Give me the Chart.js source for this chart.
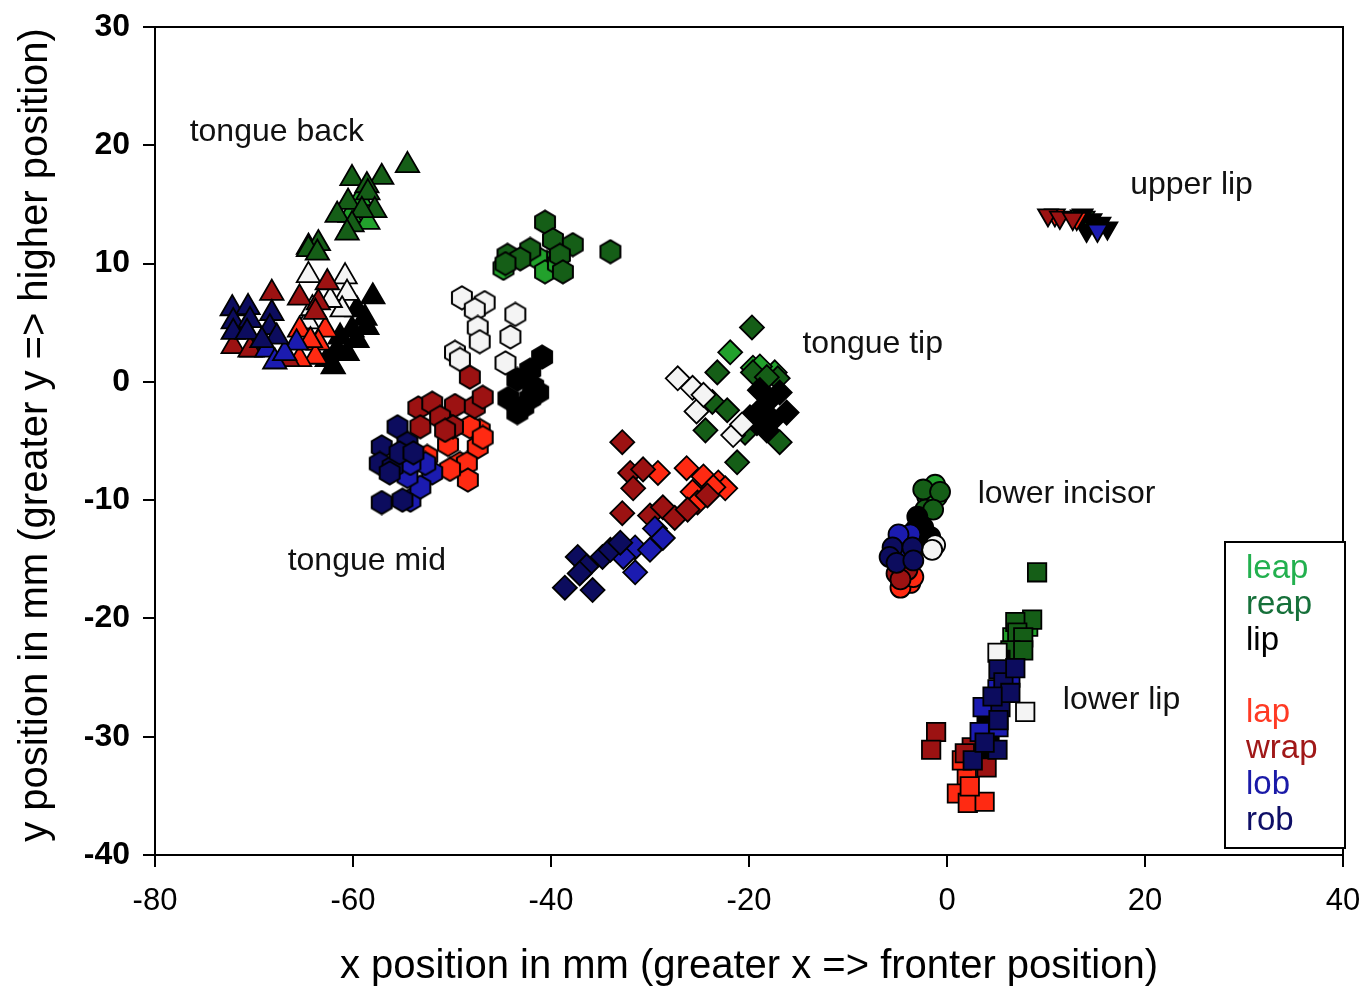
<!DOCTYPE html>
<html>
<head>
<meta charset="utf-8">
<title>Sensor positions</title>
<script src="https://cdn.jsdelivr.net/npm/chart.js@4.4.0/dist/chart.umd.min.js"></script>
<style>
  html, body { margin: 0; padding: 0; background: #fff; }
  #wrap { width: 1372px; height: 995px; }
</style>
</head>
<body>
<div id="wrap"><canvas id="myChart"></canvas></div>
<script>
// x, y in mm and the sensor each sample belongs to
// back = tongue back, mid = tongue mid, tip = tongue tip,
// inc = lower incisor, low = lower lip, up = upper lip
const leap = [
    [-60.3, 14.1, 'back'], [-58.5, 13.5, 'back'], [-64.5, 11.4, 'back'], [-59.3, 15.5, 'back'],
    [-40.4, 10.1, 'mid'], [-41.4, 10.5, 'mid'], [-44.8, 9.6, 'mid'], [-40.6, 9.3, 'mid'], [-39.3, 10.0, 'mid'],
    [-21.9, 2.5, 'tip'], [-19.6, 1.2, 'tip'], [-17.4, 0.8, 'tip'], [-18.9, 1.3, 'tip'],
    [-1.2, -8.7, 'inc'], [-2.0, -9.7, 'inc'], [-1.0, -9.7, 'inc'], [-1.7, -10.4, 'inc'],
    [6.6, -21.6, 'low'], [8.2, -20.7, 'low'], [6.7, -22.9, 'low'],
    [13.5, 14.0, 'up']
];
const reap = [
    [-54.5, 18.3, 'back'], [-57.1, 17.3, 'back'], [-60.1, 17.2, 'back'], [-58.6, 16.6, 'back'],
    [-58.5, 16.0, 'back'], [-60.5, 15.2, 'back'], [-57.8, 14.5, 'back'], [-59.1, 14.5, 'back'],
    [-61.6, 14.1, 'back'], [-60.1, 13.3, 'back'], [-60.6, 12.6, 'back'], [-63.5, 11.7, 'back'],
    [-64.5, 11.2, 'back'], [-63.6, 10.9, 'back'],
    [-40.6, 13.5, 'mid'], [-39.8, 12.0, 'mid'], [-44.4, 10.7, 'mid'], [-42.1, 11.2, 'mid'],
    [-37.8, 11.6, 'mid'], [-39.1, 10.7, 'mid'], [-38.8, 9.3, 'mid'], [-34.0, 11.0, 'mid'],
    [-43.1, 10.4, 'mid'], [-44.6, 10.0, 'mid'],
    [-19.7, 4.6, 'tip'], [-23.2, 0.8, 'tip'], [-17.1, 0.3, 'tip'], [-23.7, -1.7, 'tip'],
    [-22.2, -2.4, 'tip'], [-24.4, -4.1, 'tip'], [-16.9, -5.1, 'tip'], [-21.2, -6.8, 'tip'],
    [-19.6, 0.8, 'tip'], [-18.2, 0.4, 'tip'], [-20.4, -4.3, 'tip'],
    [-2.4, -9.1, 'inc'], [-0.7, -9.3, 'inc'], [-2.2, -10.8, 'inc'], [-1.4, -10.8, 'inc'],
    [9.1, -16.1, 'low'], [8.6, -20.1, 'low'], [6.9, -20.3, 'low'], [7.1, -21.2, 'low'],
    [7.7, -21.6, 'low'], [6.4, -22.7, 'low'], [7.7, -22.7, 'low'],
    [13.9, 13.9, 'up']
];
const lip = [
    [-58.0, 7.2, 'back'], [-59.6, 6.1, 'back'], [-58.8, 5.4, 'back'], [-58.6, 4.6, 'back'],
    [-60.1, 4.4, 'back'], [-61.3, 3.8, 'back'], [-59.6, 3.5, 'back'], [-61.6, 2.7, 'back'],
    [-62.6, 1.9, 'back'], [-60.6, 2.4, 'back'], [-62.0, 1.3, 'back'],
    [-40.9, 2.1, 'mid'], [-42.1, 1.0, 'mid'], [-43.4, 0.2, 'mid'], [-41.8, -0.4, 'mid'],
    [-44.3, -1.4, 'mid'], [-42.1, -1.4, 'mid'], [-43.4, -2.6, 'mid'], [-41.3, -0.9, 'mid'],
    [-42.8, -2.1, 'mid'],
    [-17.9, -1.5, 'tip'], [-18.9, -2.4, 'tip'], [-16.2, -2.6, 'tip'], [-17.6, -3.2, 'tip'],
    [-19.2, -3.5, 'tip'], [-16.9, -0.9, 'tip'], [-18.2, -4.1, 'tip'], [-19.9, -3.0, 'tip'],
    [-18.9, -0.7, 'tip'],
    [-3.0, -11.4, 'inc'], [-2.4, -12.3, 'inc'], [-1.7, -13.1, 'inc'], [-3.2, -12.5, 'inc'],
    [-2.0, -13.8, 'inc'],
    [5.4, -23.5, 'low'], [6.1, -26.0, 'low'], [4.0, -28.8, 'low'], [4.3, -30.0, 'low'],
    [3.3, -31.4, 'low'], [6.2, -24.4, 'low'],
    [13.7, 14.1, 'up'], [14.6, 13.7, 'up'], [15.5, 13.4, 'up'], [16.2, 13.0, 'up'], [14.1, 12.8, 'up']
];
const unnamed = [
    [-64.5, 9.0, 'back'], [-60.8, 8.9, 'back'], [-60.6, 7.5, 'back'], [-61.1, 6.1, 'back'],
    [-64.6, 5.1, 'back'], [-62.3, 6.9, 'back'], [-64.1, 6.2, 'back'],
    [-49.0, 7.1, 'mid'], [-46.7, 6.7, 'mid'], [-47.7, 6.1, 'mid'], [-43.6, 5.7, 'mid'],
    [-47.4, 4.6, 'mid'], [-47.2, 3.4, 'mid'], [-44.1, 3.8, 'mid'], [-49.7, 2.5, 'mid'],
    [-49.2, 1.9, 'mid'], [-44.6, 1.6, 'mid'],
    [-27.2, 0.3, 'tip'], [-25.7, -0.5, 'tip'], [-25.3, -2.5, 'tip'], [-21.6, -4.5, 'tip'],
    [-20.7, -3.6, 'tip'], [-24.6, -1.1, 'tip'],
    [-1.2, -13.8, 'inc'], [-1.5, -14.2, 'inc'],
    [7.9, -27.9, 'low'], [5.1, -22.9, 'low']
];
const lap = [
    [-65.4, 4.4, 'back'], [-62.8, 4.4, 'back'], [-63.5, 3.3, 'back'], [-63.8, 2.1, 'back'],
    [-65.4, 1.9, 'back'], [-64.3, 3.5, 'back'], [-70.2, 2.7, 'back'],
    [-47.2, -4.1, 'mid'], [-48.2, -3.8, 'mid'], [-50.4, -5.3, 'mid'], [-47.4, -5.5, 'mid'],
    [-46.9, -4.7, 'mid'], [-49.2, -6.9, 'mid'], [-48.5, -6.9, 'mid'], [-48.4, -8.3, 'mid'],
    [-50.2, -7.4, 'mid'], [-52.5, -6.3, 'mid'],
    [-29.2, -7.7, 'tip'], [-26.3, -7.3, 'tip'], [-24.6, -8.0, 'tip'], [-23.1, -8.5, 'tip'],
    [-22.4, -9.0, 'tip'], [-25.7, -9.3, 'tip'], [-25.2, -10.2, 'tip'], [-23.6, -8.9, 'tip'],
    [-4.4, -16.5, 'inc'], [-3.7, -17.0, 'inc'], [-4.7, -17.4, 'inc'], [-3.4, -16.5, 'inc'],
    [2.0, -33.5, 'low'], [1.0, -34.8, 'low'], [2.1, -35.6, 'low'], [3.8, -35.5, 'low'],
    [1.5, -32.0, 'low'], [2.3, -34.2, 'low'],
    [10.9, 14.1, 'up'], [13.1, 13.8, 'up']
];
const wrap = [
    [-68.2, 7.5, 'back'], [-65.4, 7.1, 'back'], [-62.6, 8.4, 'back'], [-63.5, 6.7, 'back'],
    [-63.8, 5.9, 'back'], [-72.1, 3.0, 'back'], [-70.4, 2.7, 'back'], [-66.6, 1.9, 'back'],
    [-48.2, 0.4, 'mid'], [-53.4, -2.2, 'mid'], [-52.0, -1.8, 'mid'], [-49.7, -2.0, 'mid'],
    [-47.7, -2.1, 'mid'], [-46.9, -1.3, 'mid'], [-53.2, -3.8, 'mid'], [-51.2, -3.0, 'mid'],
    [-49.9, -3.8, 'mid'], [-50.7, -4.1, 'mid'],
    [-32.8, -5.1, 'tip'], [-32.0, -7.7, 'tip'], [-30.7, -7.4, 'tip'], [-31.7, -9.0, 'tip'],
    [-32.8, -11.1, 'tip'], [-30.0, -11.3, 'tip'], [-28.7, -10.6, 'tip'], [-27.5, -11.5, 'tip'],
    [-26.2, -10.8, 'tip'], [-24.2, -9.6, 'tip'],
    [-5.1, -16.2, 'inc'], [-4.0, -15.9, 'inc'], [-4.7, -16.7, 'inc'],
    [-1.1, -29.6, 'low'], [-1.6, -31.1, 'low'], [4.0, -32.6, 'low'], [2.5, -30.9, 'low'],
    [1.8, -31.4, 'low'],
    [10.2, 14.1, 'up'], [11.4, 13.9, 'up'], [12.7, 13.8, 'up']
];
const lob = [
    [-65.7, 3.3, 'back'], [-68.7, 2.7, 'back'], [-67.9, 1.7, 'back'], [-66.9, 2.4, 'back'],
    [-52.0, -7.7, 'mid'], [-54.2, -10.0, 'mid'], [-53.2, -8.9, 'mid'], [-54.5, -8.0, 'mid'],
    [-52.7, -6.9, 'mid'], [-54.2, -6.9, 'mid'],
    [-29.5, -12.4, 'tip'], [-31.5, -14.0, 'tip'], [-30.0, -14.2, 'tip'], [-31.5, -16.1, 'tip'],
    [-32.7, -14.8, 'tip'], [-28.7, -13.2, 'tip'],
    [-3.7, -12.9, 'inc'], [-4.4, -14.8, 'inc'], [-4.9, -12.9, 'inc'],
    [6.4, -25.0, 'low'], [3.6, -27.5, 'low'], [3.3, -29.6, 'low'], [5.1, -26.0, 'low'],
    [5.2, -29.2, 'low'],
    [15.2, 12.8, 'up']
];
const rob = [
    [-72.2, 6.2, 'back'], [-70.6, 6.3, 'back'], [-68.2, 5.8, 'back'], [-72.1, 5.1, 'back'],
    [-70.4, 5.2, 'back'], [-72.1, 4.2, 'back'], [-70.7, 4.2, 'back'], [-68.4, 4.6, 'back'],
    [-67.7, 3.8, 'back'], [-69.2, 3.5, 'back'],
    [-55.5, -3.8, 'mid'], [-57.1, -5.5, 'mid'], [-54.5, -5.2, 'mid'], [-57.3, -6.9, 'mid'],
    [-56.0, -7.2, 'mid'], [-55.3, -6.0, 'mid'], [-57.1, -10.2, 'mid'], [-55.0, -10.0, 'mid'],
    [-56.3, -7.7, 'mid'], [-53.9, -6.0, 'mid'],
    [-38.6, -17.4, 'tip'], [-35.8, -17.6, 'tip'], [-37.3, -14.8, 'tip'], [-34.8, -14.8, 'tip'],
    [-36.4, -15.6, 'tip'], [-34.0, -14.2, 'tip'], [-37.1, -16.2, 'tip'], [-33.0, -13.6, 'tip'],
    [-5.5, -14.0, 'inc'], [-5.8, -14.8, 'inc'], [-5.1, -15.3, 'inc'], [-3.5, -14.0, 'inc'],
    [-3.4, -15.1, 'inc'],
    [5.2, -24.3, 'low'], [5.7, -25.4, 'low'], [5.4, -27.5, 'low'], [5.2, -28.6, 'low'],
    [5.1, -31.1, 'low'], [2.6, -32.0, 'low'], [3.8, -30.5, 'low'], [6.4, -26.3, 'low'],
    [4.6, -26.6, 'low'], [6.9, -24.2, 'low']
];

const seriesNames = ['leap', 'reap', 'lip', '', 'lap', 'wrap', 'lob', 'rob'];
const seriesData = [leap, reap, lip, unnamed, lap, wrap, lob, rob];

// sensor names written next to each cloud, anchored in mm
const partLabels = ['tongue back', 'upper lip', 'tongue tip', 'lower incisor', 'tongue mid', 'lower lip'];
const partLabelX = [-76.5, 18.5, -14.6, 3.1, -66.6, 11.7];
const partLabelY = [21.1, 16.6, 3.2, -9.5, -15.2, -26.9];

const xTicks = [-80, -60, -40, -20, 0, 20, 40];
const yTicks = [-40, -30, -20, -10, 0, 10, 20, 30];

const fills = ['#22a12c', '#155e17', '#000000', '#f4f4f4', '#ff2a12', '#9c1212', '#1b1bb0', '#0c0c5e'];
const textColors = ['#22b04e', '#16703a', '#000000', '#ffffff', '#ff3a24', '#a01818', '#1a1aa8', '#0e0e66'];

// hexagon markers for the tongue mid sensor
function hexImage(fill) {
    const c = document.createElement('canvas');
    c.width = 26;
    c.height = 26;
    const g = c.getContext('2d');
    g.beginPath();
    for (let i = 0; i < 6; i++) {
        const a = Math.PI / 6 + i * Math.PI / 3;
        const px = 13 + 11.5 * Math.cos(a);
        const py = 13 + 11.5 * Math.sin(a);
        if (i === 0) g.moveTo(px, py); else g.lineTo(px, py);
    }
    g.closePath();
    g.fillStyle = fill;
    g.fill();
    g.lineWidth = 2;
    g.strokeStyle = '#000';
    g.stroke();
    return c;
}

const shapes = { back: 'triangle', tip: 'rectRot', inc: 'circle', low: 'rect', up: 'triangle' };
const radii = { back: 13.5, mid: 11, tip: 12, inc: 10, low: 13, up: 11.5 };

const datasets = seriesData.map(function (pts, i) {
    const hex = hexImage(fills[i]);
    return {
        label: seriesNames[i],
        data: pts.map(p => ({ x: p[0], y: p[1], part: p[2] })),
        order: seriesData.length - i,
        backgroundColor: fills[i],
        borderColor: '#000',
        pointBorderWidth: 1.8,
        pointStyle: ctx => {
            const part = ctx.raw ? ctx.raw.part : 'inc';
            return part === 'mid' ? hex : shapes[part];
        },
        pointRadius: ctx => radii[ctx.raw ? ctx.raw.part : 'inc'],
        pointRotation: ctx => (ctx.raw && ctx.raw.part === 'up') ? 180 : 0
    };
});

const labelsPlugin = {
    id: 'labels',
    afterDraw(chart) {
        const c = chart.ctx;
        const a = chart.chartArea;
        const xs = chart.scales.x;
        const ys = chart.scales.y;
        c.save();

        // frame round the plot
        c.strokeStyle = '#000';
        c.lineWidth = 2;
        c.strokeRect(a.left, a.top, a.right - a.left, a.bottom - a.top);

        // sensor names
        c.fillStyle = '#111';
        c.font = '32px "Liberation Sans", Arial, sans-serif';
        c.textBaseline = 'middle';
        c.textAlign = 'left';
        partLabels.forEach(function (t, i) {
            c.fillText(t, xs.getPixelForValue(partLabelX[i]), ys.getPixelForValue(partLabelY[i]));
        });

        // legend box
        const bx = a.right - 118, by = a.bottom - 313, bw = 120, bh = 306;
        c.fillStyle = '#fff';
        c.fillRect(bx, by, bw, bh);
        c.strokeRect(bx, by, bw, bh);
        c.font = '33px "Liberation Sans", Arial, sans-serif';
        seriesNames.forEach(function (name, i) {
            if (!name) return;
            c.fillStyle = textColors[i];
            c.fillText(name, bx + 21, by + 27 + i * 36);
        });

        // axis titles
        c.fillStyle = '#000';
        c.font = '40px "Liberation Sans", Arial, sans-serif';
        c.textAlign = 'center';
        c.fillText('x position in mm (greater x => fronter position)', (a.left + a.right) / 2, 967);
        c.translate(36, (a.top + a.bottom) / 2 - 6);
        c.rotate(-Math.PI / 2);
        c.fillText('y position in mm (greater y => higher position)', 0, 0);
        c.restore();
    }
};

const ctx = document.getElementById('myChart').getContext('2d');
const myChart = new Chart(ctx, {
    type: 'scatter',
    data: { datasets: datasets },
    options: {
        responsive: true,
        maintainAspectRatio: false,
        animation: false,
        layout: { padding: { top: 27, right: 29, left: 0, bottom: 0 } },
        plugins: {
            legend: { display: false },
            tooltip: { enabled: false }
        },
        scales: {
            x: {
                type: 'linear',
                min: xTicks[0],
                max: xTicks[xTicks.length - 1],
                afterBuildTicks: s => { s.ticks = xTicks.map(v => ({ value: v })); },
                afterFit: s => {
                    s.height = 140;
                    s.paddingLeft = 0;
                    s.paddingRight = 0;
                },
                ticks: {
                    color: '#000',
                    padding: 16,
                    maxRotation: 0,
                    font: { family: '"Liberation Sans", Arial, sans-serif', size: 31 }
                },
                grid: { drawOnChartArea: false, drawTicks: true, tickLength: 12, color: '#000', lineWidth: 2 },
                border: { color: '#000', width: 2 }
            },
            y: {
                type: 'linear',
                min: yTicks[0],
                max: yTicks[yTicks.length - 1],
                afterBuildTicks: s => { s.ticks = yTicks.map(v => ({ value: v })); },
                afterFit: s => {
                    s.width = 155;
                    s.paddingTop = 0;
                    s.paddingBottom = 0;
                },
                ticks: {
                    color: '#000',
                    padding: 13,
                    font: { family: '"Liberation Sans", Arial, sans-serif', size: 32, weight: 'bold' }
                },
                grid: { drawOnChartArea: false, drawTicks: true, tickLength: 12, color: '#000', lineWidth: 2 },
                border: { color: '#000', width: 2 }
            }
        }
    },
    plugins: [labelsPlugin]
});
</script>
</body>
</html>
